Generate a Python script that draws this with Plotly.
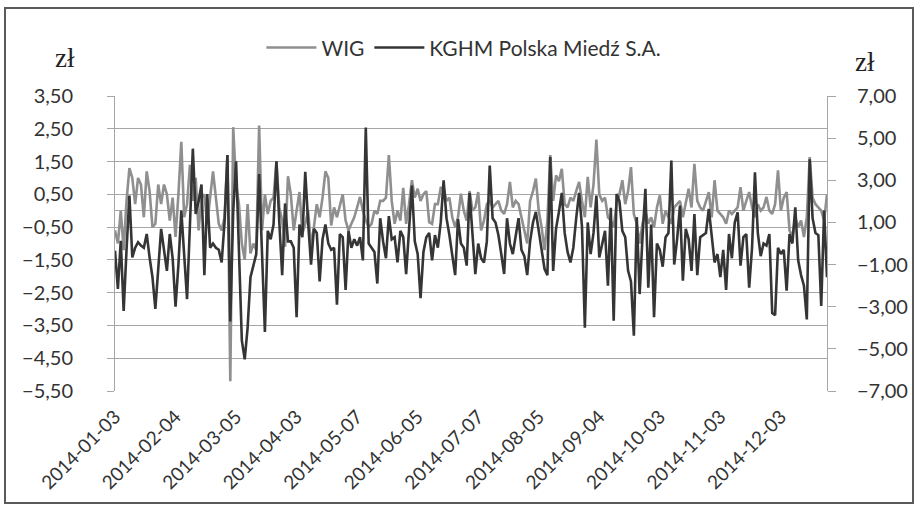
import pandas as pd
import plotly.graph_objects as go

# trading days of the Warsaw exchange, 2014 (holidays removed)
holidays = ["2014-01-06", "2014-04-18", "2014-04-21", "2014-05-01", "2014-06-19",
            "2014-08-15", "2014-11-11", "2014-12-24", "2014-12-25", "2014-12-26"]

tick_labels = ["2014-01-03", "2014-02-04", "2014-03-05", "2014-04-03", "2014-05-07",
               "2014-06-05", "2014-07-07", "2014-08-05", "2014-09-04", "2014-10-03",
               "2014-11-03", "2014-12-03"]

wig = [
    -0.6, -1.0, 0.0, -1.2, 0.3, 1.3, 1.0, 0.2, 1.0, 0.8,
    -0.2, 1.2, 0.6, -0.5, -0.4, 0.8, 0.2, 0.8, 0.5, -0.3,
    0.4, -0.8, 0.5, 2.1, -0.2, 0.2, 1.4, 0.3, 1.0, -0.6,
    0.4, 0.5, -0.4, 0.4, 1.2, 0.4, -0.4, -0.6, -0.2, 1.7,
    -5.2, 2.55, 0.8, 0.2, -1.0, -1.5, 0.2, -1.3, -1.0, -1.2,
    2.6, -0.6, 0.5, -0.1, 0.3, 0.4, 1.5, 0.1, -0.3, -1.1,
    1.05, 0.5, -0.6, 0.0, 0.57, -0.7, -0.4, 0.0, -1.1, -0.5,
    0.2, -0.2, 0.4, 1.2, 1.0, -0.45, 0.1, -0.2, 0.2, 0.5,
    -0.3, -0.6, -0.4, -0.2, 0.1, 0.42, 0.0, -0.3, -0.5, -0.4,
    0.0, -0.1, 0.3, 0.3, 0.4, 1.7, 0.3, -0.4, 0.0, -0.3,
    0.7, -0.4, 0.2, 0.93, 0.4, 0.67, 0.3, 0.5, 0.6, -0.35,
    -0.4, 0.2, 0.2, 0.7, 0.7, 0.3, 0.4, -0.2, -0.5, -0.2,
    0.52, 0.0, -0.3, 0.6, 0.0, 0.1, 0.57, -0.6, -0.3, 0.2,
    0.3, 0.1, 0.2, 0.3, 0.0, -0.1, 0.2, 0.88, 0.1, 0.3,
    0.2, -0.2, -0.7, -1.0, 0.3, 0.6, 0.98, 0.0, -0.5, -1.2,
    -0.3, 1.7, 0.3, 1.08, 0.9, 1.28, 0.2, 0.1, 0.4, 0.3,
    0.6, 0.88, 0.3, -0.2, 1.03, 0.1, 0.8, 2.17, 0.5, 0.3,
    0.4, -0.2, -0.3, -0.5, 0.2, 0.5, 0.93, 0.2, 0.6, 1.33,
    -0.1, -0.4, -1.0, -0.4, 0.0, -0.4, -0.2, -0.5, 0.1, 0.47,
    -0.4, 0.0, -0.2, -0.4, 0.1, 0.2, 0.3, -0.2, 0.2, 0.67,
    0.1, 1.43, 0.3, 0.1, 0.0, 0.3, 0.57, -0.2, 0.93, 0.0,
    -0.1, -0.2, -0.4, 0.0, -0.1, 0.0, 0.1, 0.72, 0.0, 0.3,
    0.57, 0.1, -0.2, 0.2, 0.0, 0.1, 0.42, 0.0, -0.1, 0.2,
    1.23, 0.0, 0.4, 0.57, -0.6, -0.8, -0.2, -0.5, -0.3, -0.8,
    -0.2, 1.64, 0.4, 0.2, 0.1, 0.0, -0.3, 0.5,
]

kghm = [
    -0.34, -2.16, 0.13, -3.2, -0.3, 2.27, -0.66, -0.2, 0.06, -0.1,
    -0.2, 0.45, -0.66, -1.6, -3.1, -1.3, 0.69, -0.3, -1.3, 0.45,
    -0.7, -3.0, -1.0, 1.56, -0.7, -2.64, 0.9, 4.5, 1.4, 2.0,
    2.8, -1.5, 2.35, -0.2, 0.0, -0.2, -0.3, -0.9, 1.0, 4.2,
    -3.7, 1.5, 3.9, -0.5, -4.6, -5.5, -4.0, -1.6, -1.1, -0.5,
    3.3, -0.8, -4.2, 0.6, 0.2, 0.9, 3.9, 1.0, -1.5, 1.9,
    0.1, 0.1, -0.2, -3.5, 0.9, 0.3, 3.4, 1.0, -1.0, 0.7,
    0.5, -1.8, 0.2, 0.9, 0.0, -0.3, -0.2, -2.9, 0.45, 0.3,
    -2.2, 0.6, -0.2, 0.2, -0.1, 0.3, -0.8, 5.5, 0.0, -0.2,
    -0.4, -1.9, 1.2, 0.1, -0.7, 1.3, 0.2, 0.3, -0.9, 0.6,
    0.3, -1.45, 0.6, 2.75, 0.1, -0.5, -2.6, -0.4, 0.3, 0.5,
    -0.8, 0.4, -0.2, 1.0, 3.0, 1.2, 0.4, -0.6, -1.5, 1.16,
    0.0, -0.2, -1.05, 2.4, 0.5, -1.45, 0.0, -0.7, -0.9, 0.1,
    3.7, 1.2, 1.0, 0.4, -0.5, -1.45, 1.2, 0.0, -0.5, 0.45,
    1.2, -0.3, -0.6, -1.5, 0.1, 1.0, 1.5, 0.6, -0.4, -1.2,
    -1.5, 4.1, -1.3, 0.7, 1.5, 2.4, 0.5, -0.4, -0.9, -0.2,
    1.2, 2.4, 0.8, -4.0, 1.0, -0.5, 0.5, 2.27, -0.66, 0.0,
    0.6, -2.0, 1.7, -3.67, 2.35, 2.0, 0.6, 0.3, -1.3, -1.8,
    -4.38, 1.25, -2.4, 0.3, 2.6, -2.1, 0.9, -3.5, 0.0, -0.3,
    -1.1, 0.3, 0.5, 3.94, -1.0, 0.2, 1.8, -1.77, 0.7, 0.2,
    -1.3, 1.4, -1.5, 0.3, 0.4, 0.5, 1.64, 0.2, -0.9, -0.5,
    -1.6, -0.3, -2.2, 0.45, -0.7, 1.0, 1.48, -1.05, 0.3, 0.45,
    -2.1, -0.2, 3.38, 0.5, -0.6, 0.0, -0.1, 0.45, -3.3, -3.4,
    -0.2, -0.5, -0.3, -2.24, 0.45, 0.0, 1.72, -0.8, -1.5, -2.0,
    -3.6, 4.0, 1.2, 0.5, 0.4, -2.96, 1.56, -1.6,
]

days = pd.bdate_range("2014-01-03", "2014-12-30")
days = [d.strftime("%Y-%m-%d") for d in days if d.strftime("%Y-%m-%d") not in holidays]
n = min(len(days), len(wig), len(kghm))
days = days[:n]

FONT = "Lato, 'Open Sans', sans-serif"
TXT = "#333333"
GRID = "#a6a6a6"

fig = go.Figure()
fig.add_trace(go.Scatter(x=days, y=wig[:n], name="WIG", mode="lines",
                         line=dict(color="#8f8f8f", width=2.6), yaxis="y"))
fig.add_trace(go.Scatter(x=days, y=kghm[:n], name="KGHM Polska Miedź S.A.", mode="lines",
                         line=dict(color="#353535", width=2.6), yaxis="y2"))

fig.update_layout(
    width=918, height=507,
    margin=dict(l=115, r=91, t=96, b=116),
    paper_bgcolor="white", plot_bgcolor="white",
    separators=", ",
    font=dict(family=FONT, color=TXT, size=20),
    showlegend=True,
    legend=dict(orientation="h", x=0.49, xanchor="center", y=1.163, yanchor="middle",
                font=dict(size=21, color=TXT), bgcolor="rgba(0,0,0,0)",
                tracegroupgap=0, itemwidth=50),
    xaxis=dict(type="category", range=[0, n - 1], tickmode="array", tickvals=tick_labels,
               ticktext=tick_labels, tickangle=-45, showgrid=False, zeroline=False,
               showline=False, tickfont=dict(size=19), ticks="", automargin=False,
               ticklabelstandoff=10),
    yaxis=dict(range=[-5.5, 3.5], tick0=0.5, dtick=1, tickformat=".2f",
               showgrid=True, gridcolor=GRID, gridwidth=1,
               zeroline=True, zerolinecolor=GRID, zerolinewidth=1,
               showline=True, linecolor=GRID, linewidth=1, ticks="outside",
               ticklen=7, tickcolor=GRID, tickfont=dict(size=20), ticklabelstandoff=30,
               automargin=False),
    yaxis2=dict(range=[-7, 7], tick0=-7, dtick=2, tickformat=".2f", overlaying="y",
                side="right", showgrid=False, zeroline=False,
                showline=True, linecolor=GRID, linewidth=1, ticks="outside",
                ticklen=8, tickcolor=GRID, tickfont=dict(size=20), ticklabelstandoff=17,
                automargin=False),
)

fig.add_annotation(text="zł", xref="paper", yref="paper", x=-0.070, y=1.13,
                   xanchor="center", yanchor="middle",
                   showarrow=False, font=dict(size=27, color="#222222", family="Liberation Serif"))
fig.add_annotation(text="zł", xref="paper", yref="paper", x=1.053, y=1.115,
                   xanchor="center", yanchor="middle",
                   showarrow=False, font=dict(size=27, color="#222222", family="Liberation Serif"))

# chart-area border
fig.add_shape(type="rect", xref="paper", yref="paper",
              x0=-0.1545, x1=1.1208, y0=-0.3797, y1=1.2983,
              line=dict(color="#5a5a5a", width=2), fillcolor="rgba(0,0,0,0)", layer="below")

fig.write_html("out.html", config={"displayModeBar": False},
               post_script="document.body.style.margin='0px';")
